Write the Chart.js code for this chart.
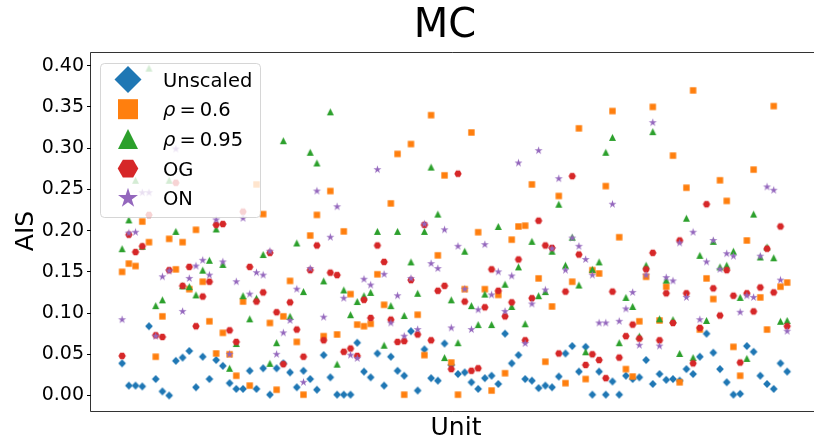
<!DOCTYPE html>
<html>
<head>
<meta charset="utf-8">
<script src="https://cdn.jsdelivr.net/npm/chart.js@4.4.1/dist/chart.umd.min.js"></script>
<style>
  html, body { margin: 0; padding: 0; background: #fff; }
</style>
</head>
<body>
<canvas id="chart" width="814" height="443"></canvas>
<script>
// Units 0..99 along the x axis (no tick labels in the figure)
const units = Array.from({ length: 100 }, (_, i) => i);

const unscaled = [
  0.039, 0.012, 0.012, 0.011, 0.084, 0.020, 0.005, 0.000, 0.042, 0.046,
  0.054, 0.010, 0.047, 0.020, 0.043, 0.036, 0.015, 0.008, 0.008, 0.030,
  0.008, 0.033, 0.001, 0.033, 0.039, 0.028, 0.010, 0.030, 0.020, 0.007,
  0.049, 0.022, 0.001, 0.001, 0.001, 0.064, 0.029, 0.022, 0.051, 0.012,
  0.047, 0.030, 0.024, 0.078, 0.006, 0.056, 0.021, 0.018, 0.063, 0.037,
  0.026, 0.028, 0.016, 0.008, 0.021, 0.024, 0.014, 0.075, 0.039, 0.049,
  0.020, 0.018, 0.009, 0.012, 0.010, 0.023, 0.051, 0.060, 0.029, 0.059,
  0.001, 0.029, 0.001, 0.017, 0.001, 0.024, 0.020, 0.022, 0.043, 0.014,
  0.026, 0.019, 0.020, 0.018, 0.032, 0.026, 0.047, 0.075, 0.052, 0.032,
  0.016, 0.001, 0.002, 0.060, 0.053, 0.024, 0.014, 0.008, 0.039, 0.029
];
const rho06 = [
  0.150, 0.160, 0.157, 0.211, 0.186, 0.047, 0.096, 0.190, 0.153, 0.186,
  0.129, 0.201, 0.138, 0.090, 0.051, 0.076, 0.050, 0.024, 0.114, 0.012,
  0.256, 0.220, 0.088, 0.007, 0.096, 0.139, 0.065, 0.001, 0.194, 0.219,
  0.072, 0.248, 0.074, 0.199, 0.123, 0.086, 0.084, 0.087, 0.147, 0.110,
  0.233, 0.293, 0.001, 0.305, 0.098, 0.049, 0.340, 0.170, 0.267, 0.040,
  0.001, 0.129, 0.319, 0.198, 0.129, 0.006, 0.122, 0.027, 0.189, 0.205,
  0.206, 0.256, 0.142, 0.041, 0.108, 0.242, 0.015, 0.138, 0.324, 0.020,
  0.152, 0.148, 0.254, 0.345, 0.192, 0.032, 0.023, 0.090, 0.144, 0.350,
  0.091, 0.132, 0.291, 0.016, 0.252, 0.370, 0.080, 0.142, 0.117, 0.261,
  0.236, 0.059, 0.024, 0.188, 0.274, 0.119, 0.080, 0.351, 0.132, 0.137
];
const rho095 = [
  0.178, 0.213, 0.261, 0.181, 0.397, 0.109, 0.116, 0.261, 0.199, 0.133,
  0.132, 0.122, 0.152, 0.164, 0.202, 0.159, 0.033, 0.063, 0.121, 0.093,
  0.118, 0.171, 0.039, 0.064, 0.309, 0.096, 0.185, 0.126, 0.295, 0.282,
  0.139, 0.344, 0.038, 0.128, 0.098, 0.114, 0.121, 0.125, 0.199, 0.061,
  0.109, 0.199, 0.097, 0.162, 0.124, 0.199, 0.277, 0.220, 0.046, 0.116,
  0.064, 0.175, 0.109, 0.086, 0.123, 0.086, 0.205, 0.135, 0.108, 0.156,
  0.087, 0.187, 0.121, 0.126, 0.175, 0.232, 0.158, 0.192, 0.134, 0.053,
  0.153, 0.162, 0.295, 0.313, 0.064, 0.119, 0.108, 0.072, 0.158, 0.320,
  0.093, 0.140, 0.092, 0.051, 0.215, 0.046, 0.170, 0.091, 0.187, 0.156,
  0.158, 0.175, 0.119, 0.045, 0.220, 0.168, 0.180, 0.167, 0.090, 0.091
];
const og = [
  0.048, 0.195, 0.174, 0.181, 0.219, 0.073, 0.071, 0.152, 0.258, 0.133,
  0.156, 0.084, 0.120, 0.138, 0.207, 0.208, 0.079, 0.065, 0.223, 0.156,
  0.114, 0.125, 0.173, 0.101, 0.038, 0.113, 0.080, 0.047, 0.152, 0.182,
  0.067, 0.149, 0.146, 0.053, 0.057, 0.048, 0.116, 0.094, 0.182, 0.162,
  0.092, 0.065, 0.066, 0.140, 0.074, 0.207, 0.067, 0.127, 0.133, 0.032,
  0.269, 0.114, 0.030, 0.033, 0.107, 0.153, 0.127, 0.096, 0.113, 0.165,
  0.067, 0.118, 0.212, 0.182, 0.179, 0.051, 0.126, 0.266, 0.171, 0.037,
  0.050, 0.043, 0.021, 0.126, 0.046, 0.072, 0.086, 0.069, 0.153, 0.173,
  0.067, 0.124, 0.088, 0.188, 0.124, 0.039, 0.082, 0.232, 0.130, 0.097,
  0.152, 0.121, 0.040, 0.124, 0.102, 0.131, 0.178, 0.125, 0.205, 0.084
];
const on = [
  0.092, 0.197, 0.198, 0.246, 0.246, 0.072, 0.144, 0.151, 0.299, 0.102,
  0.142, 0.157, 0.164, 0.146, 0.213, 0.162, 0.050, 0.138, 0.215, 0.123,
  0.149, 0.146, 0.175, 0.050, 0.076, 0.091, 0.129, 0.016, 0.154, 0.248,
  0.095, 0.192, 0.229, 0.118, 0.049, 0.045, 0.141, 0.134, 0.274, 0.147,
  0.088, 0.121, 0.072, 0.142, 0.080, 0.208, 0.160, 0.154, 0.201, 0.082,
  0.181, 0.129, 0.080, 0.104, 0.183, 0.122, 0.150, 0.102, 0.145, 0.282,
  0.063, 0.111, 0.297, 0.128, 0.178, 0.263, 0.152, 0.191, 0.181, 0.165,
  0.146, 0.088, 0.088, 0.232, 0.090, 0.105, 0.125, 0.061, 0.146, 0.331,
  0.060, 0.143, 0.139, 0.185, 0.119, 0.198, 0.092, 0.162, 0.188, 0.153,
  0.172, 0.169, 0.101, 0.121, 0.119, 0.169, 0.253, 0.249, 0.140, 0.078
];

const yTicks = [0, 0.05, 0.10, 0.15, 0.20, 0.25, 0.30, 0.35, 0.40];
const yTickLabels = ['0.00', '0.05', '0.10', '0.15', '0.20', '0.25', '0.30', '0.35', '0.40'];

const FONT = "'DejaVu Sans', sans-serif";

// marker shapes (matplotlib-like)
function markerPath(g, kind, x, y, s) {
  g.beginPath();
  if (kind === 'diamond') {
    g.moveTo(x, y - s); g.lineTo(x + s, y); g.lineTo(x, y + s); g.lineTo(x - s, y);
  } else if (kind === 'square') {
    g.rect(x - s, y - s, 2 * s, 2 * s);
  } else if (kind === 'triangle') {
    g.moveTo(x, y - s); g.lineTo(x + s, y + s); g.lineTo(x - s, y + s);
  } else if (kind === 'hexagon') {
    for (let k = 0; k < 6; k++) {
      const a = k * Math.PI / 3;
      const px = x + s * Math.cos(a), py = y + s * Math.sin(a);
      if (k === 0) g.moveTo(px, py); else g.lineTo(px, py);
    }
  } else if (kind === 'star') {
    for (let k = 0; k < 10; k++) {
      const r = k % 2 === 0 ? s : s * 0.382;
      const a = -Math.PI / 2 + k * Math.PI / 5;
      const px = x + r * Math.cos(a), py = y + r * Math.sin(a);
      if (k === 0) g.moveTo(px, py); else g.lineTo(px, py);
    }
  }
  g.closePath();
}

function markerImage(kind, s, color) {
  const size = Math.ceil(2 * s + 2);
  const c = document.createElement('canvas');
  c.width = size; c.height = size;
  const g = c.getContext('2d');
  g.fillStyle = color;
  markerPath(g, kind, size / 2, size / 2, s);
  g.fill();
  return c;
}

const series = [
  { label: 'Unscaled', data: unscaled, color: '#1f77b4', kind: 'diamond', s: 3.9, ls: 13.5 },
  { label: 'rho06', data: rho06, color: '#ff7f0e', kind: 'square', s: 3.2, ls: 10 },
  { label: 'rho095', data: rho095, color: '#2ca02c', kind: 'triangle', s: 3.5, ls: 10 },
  { label: 'OG', data: og, color: '#d62728', kind: 'hexagon', s: 3.7, ls: 10.3 },
  { label: 'ON', data: on, color: '#9467bd', kind: 'star', s: 4.2, ls: 10.5 }
];

const datasets = series.map((sr, k) => ({
  label: sr.label,
  data: units.map((u, i) => ({ x: u, y: sr.data[i] })),
  pointStyle: markerImage(sr.kind, sr.s, sr.color),
  pointRadius: 4,
  backgroundColor: sr.color,
  borderWidth: 0,
  order: series.length - k
}));

// legend entries: [parts] where parts are [text, italic]
const legendRows = [
  [['Unscaled', false]],
  [['ρ', true], ['=', false], ['0.6', false]],
  [['ρ', true], ['=', false], ['0.95', false]],
  [['OG', false]],
  [['ON', false]]
];

const decorPlugin = {
  id: 'decor',
  afterDatasetsDraw(chart) {
    const ctx = chart.ctx;
    const a = chart.chartArea;
    ctx.save();
    // frame (right spine falls outside the picture)
    ctx.strokeStyle = 'rgba(0,0,0,0.8)';
    ctx.lineWidth = 1;
    ctx.beginPath();
    ctx.moveTo(814, a.top - 0.5);
    ctx.lineTo(a.left - 0.5, a.top - 0.5);
    ctx.lineTo(a.left - 0.5, a.bottom + 0.5);
    ctx.lineTo(814, a.bottom + 0.5);
    ctx.stroke();

    // legend box
    const bx = 100.5, by = 63.5, bw = 160, bh = 154, r = 4;
    ctx.beginPath();
    ctx.moveTo(bx + r, by);
    ctx.arcTo(bx + bw, by, bx + bw, by + bh, r);
    ctx.arcTo(bx + bw, by + bh, bx, by + bh, r);
    ctx.arcTo(bx, by + bh, bx, by, r);
    ctx.arcTo(bx, by, bx + bw, by, r);
    ctx.closePath();
    ctx.fillStyle = 'rgba(255,255,255,0.8)';
    ctx.fill();
    ctx.strokeStyle = 'rgba(204,204,204,0.8)';
    ctx.stroke();

    const fs = 19.5;
    series.forEach((sr, k) => {
      const cy = 79.5 + k * 29.7;
      ctx.fillStyle = sr.color;
      markerPath(ctx, sr.kind, 128, cy, sr.ls);
      ctx.fill();
      ctx.fillStyle = '#000';
      ctx.textBaseline = 'alphabetic';
      ctx.textAlign = 'left';
      let x = 163;
      const base = cy + 0.729 * fs / 2;
      legendRows[k].forEach((p, j) => {
        ctx.font = (p[1] ? 'italic ' : '') + fs + 'px ' + FONT;
        if (j > 0) x += 4;
        ctx.fillText(p[0], x, base);
        x += ctx.measureText(p[0]).width;
      });
    });
    ctx.restore();
  },
  afterDraw(chart) {
    const ctx = chart.ctx;
    ctx.save();
    ctx.fillStyle = '#000';
    ctx.textAlign = 'center';
    ctx.textBaseline = 'alphabetic';
    ctx.font = '40px ' + FONT;
    ctx.fillText('MC', 445, 36.7);
    ctx.font = '25px ' + FONT;
    ctx.fillText('Unit', 456, 434.7);
    ctx.translate(33, 231);
    ctx.rotate(-Math.PI / 2);
    ctx.fillText('AIS', 0, 0);
    ctx.restore();
  }
};

new Chart(document.getElementById('chart'), {
  type: 'scatter',
  data: { datasets: datasets },
  options: {
    responsive: false,
    animation: false,
    devicePixelRatio: 1,
    layout: { padding: { top: 53, bottom: 32, left: 0, right: 0 } },
    plugins: {
      legend: { display: false },
      title: { display: false },
      tooltip: { enabled: false }
    },
    scales: {
      x: { type: 'linear', display: false, min: -4.63, max: 102.4 },
      y: {
        type: 'linear',
        min: -0.0188,
        max: 0.4154,
        afterFit: function(scale) { scale.width = 91; },
        afterBuildTicks: function(scale) {
          scale.ticks = yTicks.map(v => ({ value: v }));
        },
        ticks: {
          font: { family: FONT, size: 19 },
          color: '#000',
          padding: 3,
          callback: function(value, index) { return yTickLabels[index]; }
        },
        grid: { drawOnChartArea: false, tickLength: 4, color: '#000', lineWidth: 1 },
        border: { display: false }
      }
    }
  },
  plugins: [decorPlugin]
});
</script>
</body>
</html>
